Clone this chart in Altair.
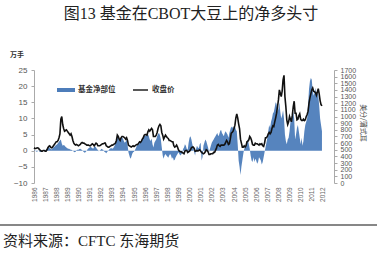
import altair as alt
import pandas as pd

# ---- data (monthly, Jan 1986 - Dec 2011) ----
start_year = 1986
# CBOT soybean close, cents/bushel
price = [
    530, 520, 520, 525, 530, 520, 500, 490, 480, 480, 490, 490,   # 1986
    480, 480, 500, 530, 550, 560, 540, 530, 540, 560, 580, 600,   # 1987
    620, 620, 640, 680, 740, 960, 1000, 880, 820, 780, 790, 800,  # 1988
    780, 760, 740, 720, 740, 700, 640, 600, 580, 570, 580, 570,   # 1989
    560, 570, 580, 600, 610, 600, 600, 590, 580, 570, 570, 570,   # 1990
    560, 560, 580, 590, 580, 560, 580, 600, 590, 560, 560, 560,   # 1991
    570, 580, 590, 590, 600, 600, 560, 550, 540, 540, 550, 560,   # 1992
    570, 570, 580, 590, 600, 640, 720, 700, 660, 640, 680, 700,   # 1993
    700, 690, 680, 660, 680, 640, 570, 560, 550, 540, 550, 560,   # 1994
    550, 560, 570, 580, 580, 600, 620, 610, 630, 660, 680, 720,   # 1995
    730, 730, 720, 770, 800, 780, 800, 820, 800, 700, 700, 700,   # 1996
    720, 760, 820, 860, 880, 860, 760, 720, 660, 690, 720, 700,   # 1997
    680, 670, 640, 640, 630, 620, 620, 560, 540, 550, 570, 540,   # 1998
    500, 480, 470, 470, 460, 450, 440, 480, 490, 490, 460, 470,   # 1999
    480, 500, 530, 540, 540, 520, 480, 480, 490, 480, 490, 500,   # 2000
    480, 460, 450, 440, 450, 470, 500, 490, 470, 430, 430, 440,   # 2001
    440, 440, 460, 460, 490, 520, 570, 580, 560, 550, 570, 570,   # 2002
    570, 570, 580, 610, 640, 620, 580, 590, 660, 750, 760, 780,   # 2003
    820, 870, 980, 1040, 980, 890, 820, 660, 600, 540, 540, 560,  # 2004
    540, 560, 620, 630, 650, 700, 680, 640, 580, 570, 570, 600,   # 2005
    590, 590, 580, 570, 590, 580, 590, 560, 550, 600, 680, 680,   # 2006
    700, 740, 760, 740, 760, 820, 860, 850, 920, 980, 1050, 1150, # 2007
    1250, 1400, 1350, 1300, 1380, 1550, 1620, 1300, 1150, 950, 880, 920,  # 2008
    1000, 960, 920, 1020, 1150, 1230, 1050, 1050, 950, 960, 1010, 1040,   # 2009
    960, 940, 940, 960, 940, 950, 1000, 1030, 1080, 1200, 1280, 1340,     # 2010
    1400, 1430, 1380, 1370, 1360, 1320, 1370, 1420, 1340, 1240, 1180, 1160,  # 2011
]
# fund net position, 10k contracts (万手)
net = [
    0.2, 0.1, -0.2, -0.3, -0.2, 0.0, -0.3, -0.4, -0.3, -0.2, 0.0, 0.2,   # 1986
    0.3, 0.2, 0.5, 1.0, 1.2, 0.8, 0.6, 0.4, 0.8, 1.0, 1.2, 1.5,          # 1987
    1.8, 2.0, 2.4, 2.8, 3.2, 3.5, 2.2, 1.5, 1.8, 1.6, 1.2, 1.0,          # 1988
    0.8, 0.6, 0.6, 0.4, 0.3, 0.2, 0.0, -0.3, -0.5, -0.3, 0.2, 0.3,       # 1989
    0.3, 0.5, 0.6, 0.4, 0.2, -0.2, -0.5, -0.6, -0.3, 0.0, 0.5, 0.8,      # 1990
    1.0, 1.2, 1.0, 0.8, 0.6, 1.2, 1.4, 1.0, 0.5, 0.2, -0.2, 0.0,         # 1991
    0.3, 0.6, 0.4, 0.2, -0.3, -0.5, -0.8, -0.4, 0.0, 0.3, 0.6, 0.8,      # 1992
    0.8, 0.6, 1.0, 1.5, 2.5, 3.5, 4.5, 4.0, 3.0, 3.5, 4.0, 4.2,          # 1993
    3.8, 3.0, 2.5, 2.8, 3.5, 2.0, -0.5, -1.5, -2.5, -2.0, -1.0, -0.5,    # 1994
    -0.3, 0.2, 0.8, 1.5, 2.0, 2.0, 2.5, 2.8, 3.2, 3.8, 4.2, 4.6,         # 1995
    4.8, 4.5, 5.0, 5.2, 4.5, 3.5, 3.0, 3.8, 2.0, 1.0, 2.5, 3.0,          # 1996
    3.5, 4.5, 5.2, 5.5, 4.8, 3.5, 1.0, -1.5, -2.5, -1.5, -1.0, -1.5,     # 1997
    -1.8, -2.2, -1.5, -1.0, -1.5, -2.5, -2.0, -3.0, -2.8, -2.0, -1.5, -1.0,  # 1998
    -0.5, -1.0, -1.5, -1.2, -0.8, 0.5, 1.0, 2.0, 1.5, 0.5, 0.3, 2.5,     # 1999
    4.0, 4.5, 3.5, 2.0, 1.0, -0.5, -1.5, 0.5, 1.5, 1.0, 0.8, 2.0,        # 2000
    2.5, -3.0, -2.0, 1.5, 2.5, 3.5, 3.0, 2.0, 1.0, -0.5, 0.5, 1.5,       # 2001
    2.5, 3.0, 3.5, 4.0, 4.5, 5.0, 5.5, 4.5, 5.0, 6.0, 6.5, 5.5,          # 2002
    5.0, 4.5, 5.5, 6.0, 5.5, 5.0, 4.0, 5.5, 6.5, 7.5, 7.0, 7.5,          # 2003
    7.0, 7.5, 6.5, 6.0, 2.0, -3.0, -5.0, -7.5, -5.0, -3.0, -1.0, 0.5,    # 2004
    1.0, 1.5, 3.0, 3.5, 2.0, 0.5, -1.5, -3.0, -3.5, -2.0, -3.5, -2.5,    # 2005
    -3.0, -4.0, -3.5, -2.0, -2.5, -3.0, -4.3, -3.5, -2.0, -0.5, 1.0, 2.5,  # 2006
    4.0, 6.0, 8.0, 7.0, 9.0, 10.0, 11.5, 12.0, 13.5, 15.0, 14.5, 12.0,   # 2007
    13.0, 15.0, 12.0, 10.0, 11.0, 12.5, 10.0, 5.0, 3.0, 2.0, 3.5, 4.0,   # 2008
    6.0, 9.0, 10.0, 11.5, 12.0, 10.0, 3.5, 5.0, 7.0, 8.0, 6.0, 4.0,      # 2009
    2.0, 4.0, 1.5, 3.0, 6.0, 8.0, 9.0, 10.0, 14.0, 19.0, 21.5, 22.5,     # 2010
    22.0, 18.5, 17.0, 18.0, 19.5, 16.5, 18.0, 17.0, 14.0, 10.0, 8.0, 6.0,  # 2011
]
year_ticks = [1986, 1987, 1988, 1989, 1990, 1991, 1992, 1993, 1994, 1995,
              1996, 1997, 1998, 1999, 2000, 2001, 2002, 2003, 2004, 2005,
              2006, 2007, 2008, 2009, 2010, 2011, 2012]
left_ticks = [-10, -5, 0, 5, 10, 15, 20, 25]
right_ticks = [0, 100, 200, 300, 400, 500, 600, 700, 800, 900, 1000,
               1100, 1200, 1300, 1400, 1500, 1600, 1700]

title_text = "图13 基金在CBOT大豆上的净多头寸"
source_text = "资料来源：CFTC 东海期货"
unit_left = "万手"
unit_right = "美分/蒲式耳"
legend_net = "基金净部位"
legend_price = "收盘价"

df = pd.DataFrame({
    "t": [start_year + i / 12 for i in range(len(price))],
    "price": price,
    "net": net,
})

W, H = 300, 113
BLUE = "#4d7dba"
SANS = "Liberation Sans, Noto Sans CJK SC"
SERIF = "Liberation Serif, Noto Sans CJK SC"
CJK = "Noto Sans CJK SC"

xscale = alt.Scale(domain=[1986, 2013], nice=False, zero=False)


def make_xaxis():
    return alt.Axis(values=year_ticks, format="d", labelAngle=270, labelFontSize=6.5,
                    labelColor="#666", labelFont=SANS, domain=False, ticks=False,
                    grid=False, title=None, labelPadding=4, labelOverlap=False,
                    labelSeparation=0, labelBound=False, labelFlush=False,
                    labelBaseline="middle", labelAlign="right")


area = alt.Chart(df).mark_area(color=BLUE, opacity=0.95, interpolate="linear").encode(
    x=alt.X("t:Q", scale=xscale, axis=make_xaxis()),
    y=alt.Y("net:Q", scale=alt.Scale(domain=[-10, 25], nice=False),
            axis=alt.Axis(orient="left", values=left_ticks, title=None, grid=False,
                          labelFontSize=8, labelColor="#555", labelFont=SANS,
                          domainColor="#aaa", tickColor="#aaa", tickSize=3,
                          labelPadding=4)),
)

line = alt.Chart(df).mark_line(color="#111", strokeWidth=1.6).encode(
    x=alt.X("t:Q", scale=xscale, axis=make_xaxis()),
    y=alt.Y("price:Q", scale=alt.Scale(domain=[0, 1700], nice=False),
            axis=alt.Axis(orient="right", values=right_ticks, title=None, grid=False,
                          format="d",
                          labelFontSize=7, labelColor="#555", labelFont=SANS,
                          domainColor="#aaa", tickColor="#aaa", tickSize=3,
                          labelPadding=3, labelOverlap=False, labelBaseline="middle")),
)

def txt(s, x, y, size, **kw):
    return alt.Chart(pd.DataFrame({"s": [s]})).mark_text(
        fontSize=size, **kw).encode(text="s:N", x=alt.value(x), y=alt.value(y))

title = txt(title_text, 157, -56, 16, font=SERIF,
            color="#222", align="center", baseline="middle")
unit_l = txt(unit_left, -24, -15, 7, font=CJK, color="#333", fontWeight="bold",
             align="left", baseline="middle")
unit_r = txt(unit_right, 329, 53, 7, font=CJK, color="#444", angle=90,
             align="center", baseline="middle")
leg_t1 = txt(legend_net, 44, 20, 7.5, font=CJK, color="#333", fontWeight="bold",
             align="left", baseline="middle")
leg_t2 = txt(legend_price, 118, 20, 7.5, font=CJK, color="#333", fontWeight="bold",
             align="left", baseline="middle")
source = txt(source_text, -31, 171, 15, font=SERIF,
             color="#222", align="left", baseline="middle")

leg_sw = alt.Chart(pd.DataFrame({"a": [0]})).mark_rect(color=BLUE).encode(
    x=alt.value(23), x2=alt.value(41), y=alt.value(18), y2=alt.value(22))
leg_ln = alt.Chart(pd.DataFrame({"a": [0]})).mark_rule(color="#111", strokeWidth=1.4).encode(
    x=alt.value(99), x2=alt.value(114), y=alt.value(20))
sep = alt.Chart(pd.DataFrame({"a": [0]})).mark_rule(color="#111", strokeWidth=1.2).encode(
    x=alt.value(-34), x2=alt.value(343), y=alt.value(155))

chart = alt.layer(area, line, title, unit_l, unit_r, leg_sw, leg_t1, leg_ln, leg_t2,
                  source, sep).resolve_scale(y="independent").properties(
    width=W, height=H,
    autosize=alt.AutoSizeParams(type="none"),
    padding={"left": 34, "top": 70, "right": 43, "bottom": 71},
    background="white",
).configure_view(stroke=None)

chart.save("out.html", embed_options={"renderer": "svg", "actions": False})
